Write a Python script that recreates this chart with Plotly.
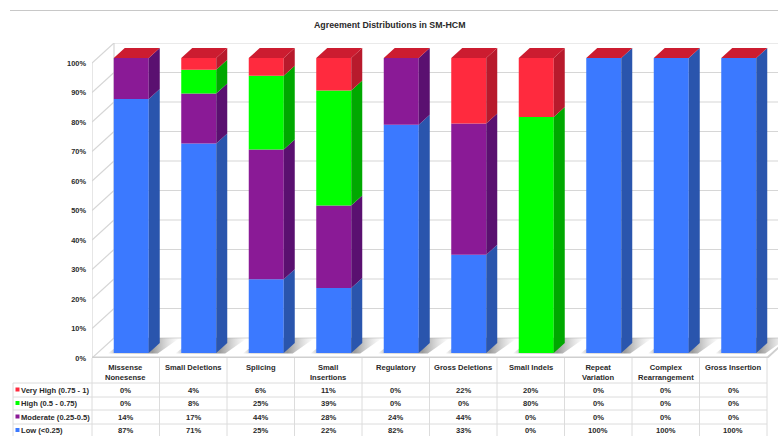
import plotly.graph_objects as go

# ---- data ----
categories = ["Missense<br>Nonesense", "Small Deletions", "Splicing", "Small<br>Insertions", "Regulatory",
              "Gross Deletions", "Small Indels", "Repeat<br>Variation", "Complex<br>Rearrangement", "Gross Insertion"]
very_high = [0, 4, 6, 11, 0, 22, 20, 0, 0, 0]
high = [0, 8, 25, 39, 0, 0, 80, 0, 0, 0]
moderate = [14, 17, 44, 28, 24, 44, 0, 0, 0, 0]
low = [87, 71, 25, 22, 82, 33, 0, 100, 100, 100]
y_ticks = [0, 10, 20, 30, 40, 50, 60, 70, 80, 90, 100]

# stacking order runs bottom to top; table order is the reverse
series = [
    ("Low (<0.25)", low, "#3b79ff", "#2a55ad"),
    ("Moderate (0.25-0.5)", moderate, "#8a1a96", "#5a1070"),
    ("High (0.5 - 0.75)", high, "#00ff00", "#00a800"),
    ("Very High (0.75 - 1)", very_high, "#ff2a3e", "#b81a2c"),
]
TOP_FACE = "#cc1c30"
GRID = "#d6d6d6"
TEXT = "#2a2a2a"

# ---- page geometry ----
W, H = 778, 436
FLOOR_LEFT, FLOOR_Y, WALL_TOP = 92, 358, 43
COL_W = 67.5                # px per category
PX_PER_PCT = 2.95           # px per percent
DEPTH_X = 22 / COL_W        # full depth of the box in data units
DEPTH_Y = 20 / PX_PER_PCT
BAR_W = 35 / COL_W
BAR_X = DEPTH_X / 4         # bars stand in the middle half of the depth
BAR_Y = DEPTH_Y / 4
SIDE_X = DEPTH_X / 2
SIDE_Y = DEPTH_Y / 2
X_MIN = -0.5
X_MAX = X_MIN + (W - FLOOR_LEFT) / COL_W
Y_MAX = (FLOOR_Y - WALL_TOP) / PX_PER_PCT
X_END = len(categories) - 0.5


def px(p):
    return p / W


def py(p):
    return 1 - p / H


fig = go.Figure()

# soft floor shadows behind each bar
for i in range(len(categories)):
    left = i + BAR_X - BAR_W / 2
    right = left + BAR_W
    fig.add_trace(go.Scatter(
        x=[left - 6 / COL_W, right + 9 / COL_W, right + 31 / COL_W, left + 14 / COL_W, left - 6 / COL_W],
        y=[1.5, 1.5, DEPTH_Y, DEPTH_Y, 1.5],
        mode="lines", line=dict(width=0), fill="toself", zorder=-1,
        fillgradient=dict(type="horizontal", colorscale=[
            [0, "rgba(160,160,160,0)"], [0.12, "rgba(170,170,170,0.7)"], [0.62, "rgba(150,150,150,0.95)"],
            [1, "rgba(200,200,200,0)"]]),
        hoverinfo="skip", showlegend=False))

# shares of each category's total, stacked front faces
totals = [sum(s[1][i] for s in series) for i in range(len(categories))]
running = [0.0] * len(categories)
for name, values, front, side in series:
    shares = [v / t * 100 for v, t in zip(values, totals)]
    bases = list(running)
    fig.add_trace(go.Bar(
        x=[i + BAR_X for i in range(len(categories))],
        y=shares, base=[b + BAR_Y for b in bases], width=BAR_W,
        marker=dict(color=front, line=dict(width=0)), name=name, showlegend=False, hoverinfo="skip"))
    # right-hand faces of the same segments
    sx, sy = [], []
    for i, (b, h) in enumerate(zip(bases, shares)):
        if h == 0:
            continue
        xr = i + BAR_X + BAR_W / 2
        y0, y1 = b + BAR_Y, b + h + BAR_Y
        sx += [xr, xr + SIDE_X, xr + SIDE_X, xr, xr, None]
        sy += [y0, y0 + SIDE_Y, y1 + SIDE_Y, y1, y0, None]
    fig.add_trace(go.Scatter(x=sx, y=sy, mode="lines", line=dict(width=0), fill="toself",
                             fillcolor=side, hoverinfo="skip", showlegend=False))
    running = [b + h for b, h in zip(bases, shares)]

# top caps
tx, ty = [], []
for i, top in enumerate(running):
    xl = i + BAR_X - BAR_W / 2
    yt = top + BAR_Y
    tx += [xl, xl + BAR_W, xl + BAR_W + SIDE_X, xl + SIDE_X, xl, None]
    ty += [yt, yt, yt + SIDE_Y, yt + SIDE_Y, yt, None]
fig.add_trace(go.Scatter(x=tx, y=ty, mode="lines", line=dict(width=0), fill="toself",
                         fillcolor=TOP_FACE, hoverinfo="skip", showlegend=False))

# walls, gridlines and floor
shapes = []


def wall_line(x0, y0, x1, y1, width=1.2, color=GRID):
    shapes.append(dict(type="line", xref="x", yref="y", x0=x0, y0=y0, x1=x1, y1=y1,
                       layer="below", line=dict(color=color, width=width)))


for t in y_ticks:
    wall_line(X_MIN, t, X_MIN + DEPTH_X, t + DEPTH_Y)
    wall_line(X_MIN + DEPTH_X, t + DEPTH_Y, X_MAX, t + DEPTH_Y)
wall_line(X_MIN, 0, X_MIN, 100)
wall_line(X_MIN + DEPTH_X, DEPTH_Y, X_MIN + DEPTH_X, 100 + DEPTH_Y)
wall_line(X_MIN, 0.15, X_END, 0.15, width=2, color="#cfcfcf")
wall_line(X_END, 0, X_END + DEPTH_X, DEPTH_Y, width=2, color="#cfcfcf")

# rule across the top of the page
shapes.append(dict(type="line", xref="paper", yref="paper", x0=px(10), x1=1, y0=py(10.5), y1=py(10.5),
                   line=dict(color="#c8c8c8", width=1.2)))

# data table under the chart
COL_EDGES = [FLOOR_LEFT + COL_W * k for k in range(len(categories) + 1)]
ROW_EDGES = [383, 397, 410, 424]
ROW_MID = [390, 403.5, 417, 430.5]
TABLE_LEFT = 13


def table_line(x0, y0, x1, y1):
    shapes.append(dict(type="line", xref="paper", yref="paper", x0=px(x0), y0=py(y0), x1=px(x1), y1=py(y1),
                       line=dict(color="#dcdcdc", width=1)))


for e in COL_EDGES:
    table_line(e, FLOOR_Y, e, H)
table_line(TABLE_LEFT, ROW_EDGES[0], TABLE_LEFT, H)
for r in ROW_EDGES:
    table_line(TABLE_LEFT, r, COL_EDGES[-1], r)

annotations = []


def label(x, y, text, xanchor="center", size=7.6):
    annotations.append(dict(xref="paper", yref="paper", x=px(x), y=py(y), text=f"<b>{text}</b>",
                            showarrow=False, xanchor=xanchor, yanchor="middle", align="center",
                            font=dict(family="Liberation Sans", size=size, color=TEXT)))


for k, name in enumerate(categories):
    centre = (COL_EDGES[k] + COL_EDGES[k + 1]) / 2
    label(centre, 372.5 if "<br>" in name else 367.5, name)
for row, (name, values, front, side) in enumerate(reversed(series)):
    y = ROW_MID[row]
    shapes.append(dict(type="rect", xref="paper", yref="paper", x0=px(15.5), x1=px(19.5),
                       y0=py(y - 2.5), y1=py(y + 1.5), fillcolor=front, line=dict(width=0)))
    label(19, y, name.replace("<", "&lt;"), xanchor="left")
    for k, v in enumerate(values):
        label((COL_EDGES[k] + COL_EDGES[k + 1]) / 2, y, f"{v}%")

label(390, 25, "Agreement Distributions in SM-HCM", size=8.8)

fig.update_layout(
    width=W, height=H, margin=dict(l=0, r=0, t=0, b=0, autoexpand=False),
    paper_bgcolor="white", plot_bgcolor="white",
    barmode="overlay", shapes=shapes, annotations=annotations,
    xaxis=dict(domain=[px(FLOOR_LEFT), 1], range=[X_MIN, X_MAX], visible=False),
    yaxis=dict(domain=[py(FLOOR_Y), py(WALL_TOP)], range=[0, Y_MAX], tickvals=y_ticks,
               ticktext=[f"{t}%" for t in y_ticks], showgrid=False, zeroline=False, showline=False,
               ticks="", ticklabelstandoff=5,
               tickfont=dict(family="Liberation Sans", size=7.4, color=TEXT, weight="bold")),
)

fig.write_html("out.html", config=dict(displayModeBar=False))
